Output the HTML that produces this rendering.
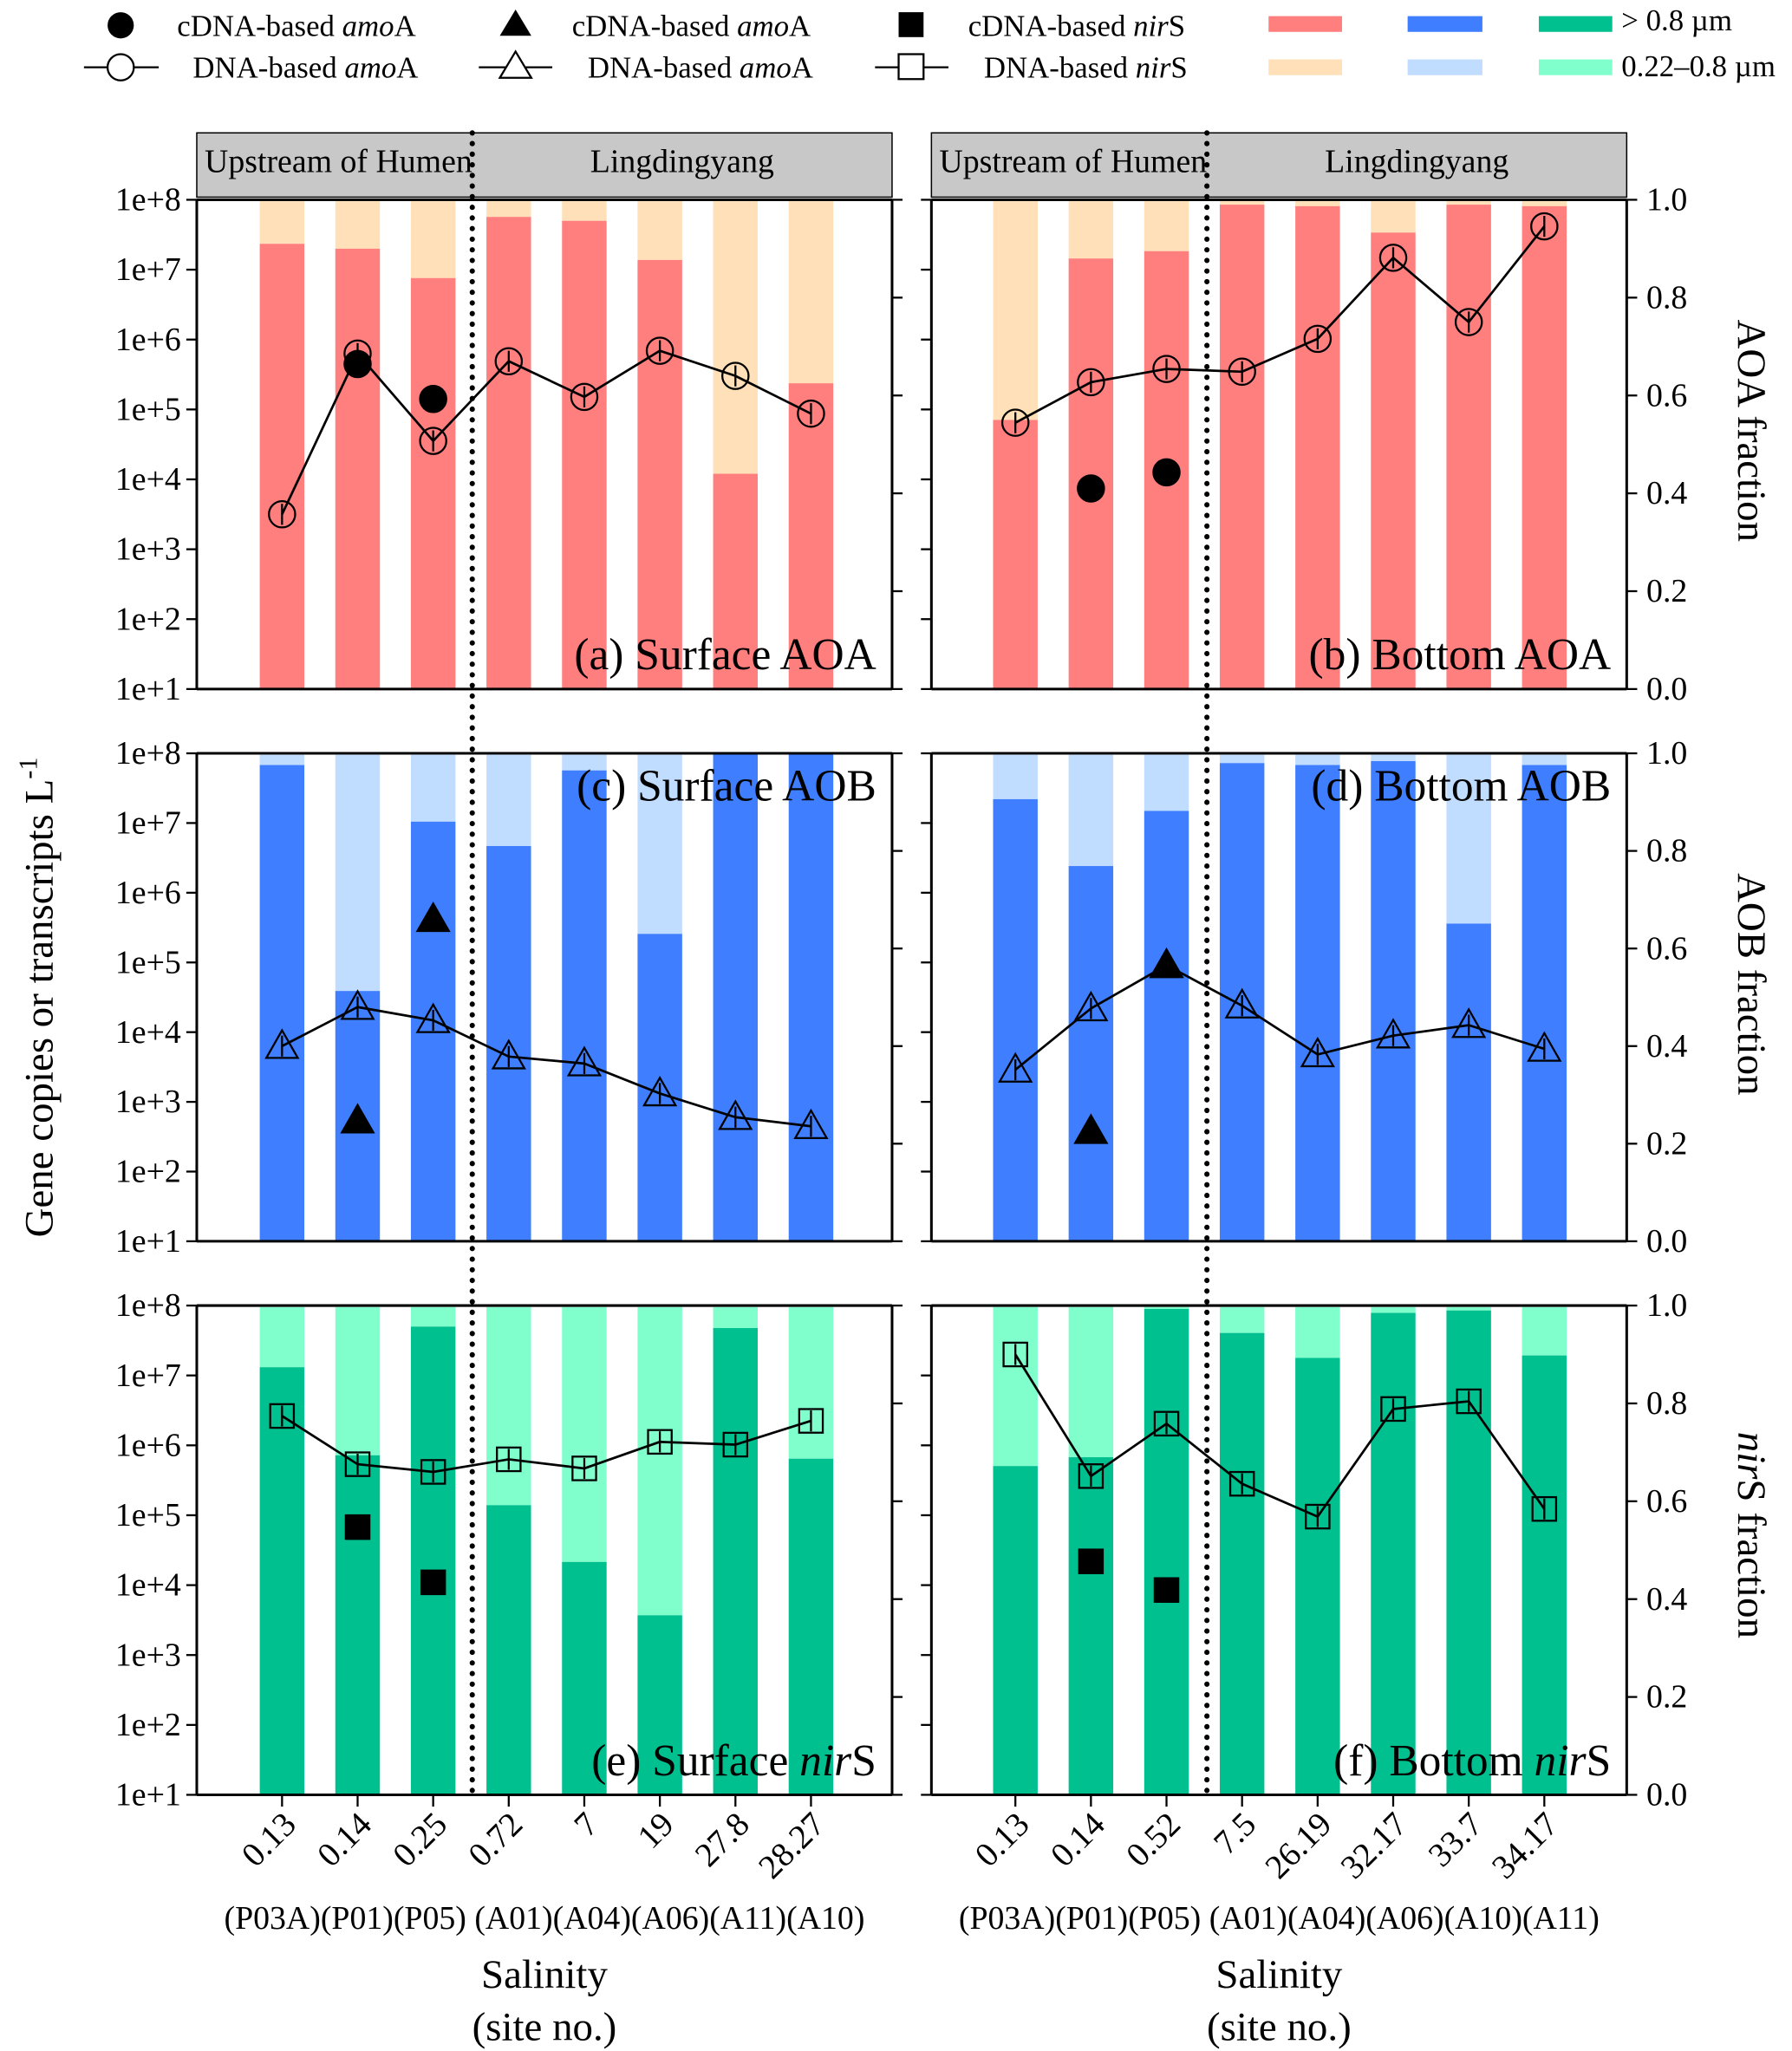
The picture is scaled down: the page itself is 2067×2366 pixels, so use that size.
<!DOCTYPE html>
<html><head><meta charset="utf-8"><style>body{margin:0;background:#fff}svg{display:block}svg text,svg tspan{font-family:"Liberation Serif","Times New Roman",serif !important}</style></head>
<body>
<svg id="fig" width="2067" height="2366" viewBox="0 0 1366 1563" xmlns="http://www.w3.org/2000/svg" font-family="Liberation Serif, serif">
<g id="legend" font-size="23">
 <circle cx="92" cy="19" r="10" fill="#000"/><text x="135" y="27">cDNA-based <tspan font-style="italic">amo</tspan>A</text>
 <line x1="64" y1="51" x2="121" y2="51" stroke="#000" stroke-width="1.5"/><circle cx="92" cy="51" r="10" fill="#fff" stroke="#000" stroke-width="1.5"/><text x="147" y="59">DNA-based <tspan font-style="italic">amo</tspan>A</text>
 <polygon points="393,7 405,27 381,27" fill="#000"/><text x="436" y="27">cDNA-based <tspan font-style="italic">amo</tspan>A</text>
 <line x1="365" y1="51" x2="421" y2="51" stroke="#000" stroke-width="1.5"/><polygon points="393,39 405,59 381,59" fill="#fff" stroke="#000" stroke-width="1.5"/><text x="448" y="59">DNA-based <tspan font-style="italic">amo</tspan>A</text>
 <rect x="685" y="9" width="19" height="19" fill="#000"/><text x="738" y="27">cDNA-based <tspan font-style="italic">nir</tspan>S</text>
 <line x1="667" y1="51" x2="723" y2="51" stroke="#000" stroke-width="1.5"/><rect x="685" y="41" width="19" height="19" fill="#fff" stroke="#000" stroke-width="1.5"/><text x="750" y="59">DNA-based <tspan font-style="italic">nir</tspan>S</text>
 <rect x="967" y="12" width="56" height="12" fill="#FF7F7F"/><rect x="1073" y="12" width="57" height="12" fill="#3F7FFF"/><rect x="1173" y="12" width="56" height="12" fill="#00C090"/><text x="1236" y="23">&gt; 0.8 µm</text>
 <rect x="967" y="45" width="56" height="12" fill="#FFE0B8"/><rect x="1073" y="45" width="57" height="12" fill="#C0DCFF"/><rect x="1173" y="45" width="56" height="12" fill="#80FFCC"/><text x="1236" y="58">0.22–0.8 µm</text>
</g>
<g id="plots"></g>
</svg>
<script>
const sitesL=["0.13","0.14","0.25","0.72","7","19","27.8","28.27"];
const sitesR=["0.13","0.14","0.52","7.5","26.19","32.17","33.7","34.17"];
const fracA=[0.91,0.90,0.84,0.965,0.957,0.877,0.44,0.625];
const fracB=[0.55,0.88,0.895,0.99,0.987,0.933,0.99,0.987];
const fracC=[0.976,0.513,0.86,0.81,0.965,0.63,1.0,1.0];
const fracD=[0.906,0.769,0.882,0.98,0.976,0.984,0.651,0.976];
const fracE=[0.874,0.694,0.957,0.592,0.476,0.367,0.954,0.687];
const fracF=[0.672,0.69,0.993,0.944,0.893,0.985,0.99,0.898];
const dnaA=[3.5,5.8,4.55,5.69,5.18,5.84,5.48,4.94];
const dnaB=[4.81,5.39,5.58,5.54,6.01,7.17,6.25,7.62];
const dnaC=[3.8,4.36,4.17,3.65,3.55,3.12,2.78,2.65];
const dnaD=[3.46,4.34,4.96,4.38,3.68,3.95,4.1,3.76];
const dnaE=[6.42,5.73,5.62,5.8,5.67,6.05,6.01,6.35];
const dnaF=[7.3,5.56,6.31,5.45,4.98,6.52,6.63,5.09];
const cdnaA=[null,5.65,5.15,null,null,null,null,null];
const cdnaB=[null,3.87,4.1,null,null,null,null,null];
const cdnaC=[null,2.73,5.62,null,null,null,null,null];
const cdnaD=[null,2.58,4.96,null,null,null,null,null];
const cdnaE=[null,4.83,4.04,null,null,null,null,null];
const cdnaF=[null,4.34,3.93,null,null,null,null,null];
const logTicks=["1e+1","1e+2","1e+3","1e+4","1e+5","1e+6","1e+7","1e+8"];
const fracTicks=["0.0","0.2","0.4","0.6","0.8","1.0"];
const NS="http://www.w3.org/2000/svg";
const g=document.getElementById('plots');
function mk(t,a,p,txt){const e=document.createElementNS(NS,t);for(const k in a)e.setAttribute(k,a[k]);if(t=='text')e.setAttribute('font-family','Liberation Serif, serif');if(txt!==undefined)e.textContent=txt;(p||g).appendChild(e);return e;}
const cols=[{x0:150,x1:680,c0:215,div:360},{x0:710,x1:1240,c0:774,div:920}];
const rows=[{y0:152,y1:525,dark:"#FF7F7F",light:"#FFE0B8",mk:"circle"},{y0:574,y1:946,dark:"#3F7FFF",light:"#C0DCFF",mk:"tri"},{y0:995,y1:1368,dark:"#00C090",light:"#80FFCC",mk:"sq"}];
const panels=[[fracA,dnaA,cdnaA,"(a) Surface AOA",0,0,"b"],[fracB,dnaB,cdnaB,"(b) Bottom AOA",0,1,"b"],[fracC,dnaC,cdnaC,"(c) Surface AOB",1,0,"t"],[fracD,dnaD,cdnaD,"(d) Bottom AOB",1,1,"t"],[fracE,dnaE,cdnaE,"(e) Surface nirS",2,0,"b"],[fracF,dnaF,cdnaF,"(f) Bottom nirS",2,1,"b"]];
function marker(p,type,x,y,fill){
  if(type=="circle")mk('circle',{cx:x,cy:y,r:10,fill:fill,stroke:'#000','stroke-width':1.5},p);
  else if(type=="tri")mk('polygon',{points:`${x},${y-12} ${x+12},${y+9} ${x-12},${y+9}`,fill:fill,stroke:'#000','stroke-width':1.5},p);
  else mk('rect',{x:x-9,y:y-9,width:18,height:18,fill:fill,stroke:'#000','stroke-width':1.5},p);
}
panels.forEach(([fr,dna,cd,label,ri,ci,pos])=>{
  const R=rows[ri],C=cols[ci],H=R.y1-R.y0,step=57.6;
  const pg=mk('g',{});
  
  
  const X=i=>C.c0+i*step, YF=f=>R.y1-f*H, YL=v=>R.y1-(v-1)/7*H;
  fr.forEach((f,i)=>{
    const l=mk('rect',{x:X(i)-17,y:YF(0.997),width:34,height:Math.max(0,YF(f)-YF(0.997)),fill:R.light},pg);
    
    
    const d=mk('rect',{x:X(i)-17,y:YF(f),width:34,height:R.y1-YF(f),fill:R.dark},pg);
    
    
  });
  mk('line',{x1:C.x0,y1:R.y0,x2:C.x1,y2:R.y0,stroke:'#000','stroke-width':2},pg);
  mk('line',{x1:C.x0,y1:R.y1,x2:C.x1,y2:R.y1,stroke:'#000','stroke-width':2},pg);
  mk('line',{x1:C.x0,y1:R.y0,x2:C.x0,y2:R.y1,stroke:'#000','stroke-width':2},pg);
  mk('line',{x1:C.x1,y1:R.y0,x2:C.x1,y2:R.y1,stroke:'#000','stroke-width':2},pg);
  logTicks.forEach((t,k)=>{const y=YL(k+1);mk('line',{x1:C.x0-8,y1:y,x2:C.x0,y2:y,stroke:'#000','stroke-width':1.5},pg);
    if(ci==0)mk('text',{x:C.x0-12,y:y+8,'text-anchor':'end','font-size':25},pg,t);});
  fracTicks.forEach((t,k)=>{const y=YF(k*0.2);mk('line',{x1:C.x1,y1:y,x2:C.x1+8,y2:y,stroke:'#000','stroke-width':1.5},pg);
    if(ci==1)mk('text',{x:C.x1+15,y:y+8,'font-size':25},pg,t);});
  let pts=dna.map((v,i)=>X(i)+","+YL(v)).join(" ");
  mk('polyline',{points:pts,fill:'none',stroke:'#000','stroke-width':1.8},pg);
  dna.forEach((v,i)=>{mk('line',{x1:X(i),y1:YL(v)-8,x2:X(i),y2:YL(v)+8,stroke:'#000','stroke-width':1.5},pg);marker(pg,R.mk,X(i),YL(v),'none');});
  cd.forEach((v,i)=>{if(v!==null)marker(pg,R.mk,X(i),YL(v),'#000');});
  let lbl=label.replace(/nir/,'<tspan font-style="italic">nir</tspan>');
  const t=mk('text',{x:C.x1-12,y:pos=="b"?R.y1-15:R.y0+36,'text-anchor':'end','font-size':34},pg);
  t.innerHTML=lbl;
  if(ri==2){
    const labs=ci==0?sitesL:sitesR;
    labs.forEach((s,i)=>{mk('line',{x1:X(i),y1:R.y1,x2:X(i),y2:R.y1+9,stroke:'#000','stroke-width':1.5},pg);
      mk('text',{x:X(i)+12,y:R.y1+24,'text-anchor':'end','font-size':26,transform:`rotate(-45 ${X(i)+12} ${R.y1+24})`},pg,s);});
  }
});
cols.forEach((C,ci)=>{
  const hg=mk('g',{});
  
  
  mk('rect',{x:C.x0,y:101,width:C.x1-C.x0,height:49,fill:'#C8C8C8',stroke:'#000','stroke-width':1},hg);
  mk('text',{x:(C.x0+C.div)/2+3,y:131,'text-anchor':'middle','font-size':25},hg,"Upstream of Humen");
  mk('text',{x:(C.div+C.x1)/2,y:131,'text-anchor':'middle','font-size':25},hg,"Lingdingyang");
  mk('line',{x1:C.div,y1:101,x2:C.div,y2:1368,stroke:'#000','stroke-width':4,'stroke-dasharray':'0.1 8','stroke-linecap':'round'},hg);
  const cx=(C.x0+C.x1)/2;
  mk('text',{x:cx,y:1470,'text-anchor':'middle','font-size':25},hg,"(P03A)(P01)(P05) (A01)(A04)(A06)"+(ci==0?"(A11)(A10)":"(A10)(A11)"));
  mk('text',{x:cx,y:1515,'text-anchor':'middle','font-size':31},hg,"Salinity");
  mk('text',{x:cx,y:1555,'text-anchor':'middle','font-size':31},hg,"(site no.)");
});
const yt=mk('text',{x:40,y:760,'text-anchor':'middle','font-size':31,transform:'rotate(-90 40 760)'});
yt.innerHTML='Gene copies or transcripts L<tspan dy="-12" font-size="20">-1</tspan>';


[["AOA fraction",328],["AOB fraction",750],["<tspan font-style='italic'>nir</tspan>S fraction",1170]].forEach(([s,y])=>{
  const t=mk('text',{x:1325,y:y,'text-anchor':'middle','font-size':31,transform:`rotate(90 1325 ${y})`});t.innerHTML=s;
  
  
});
</script>
</body></html>
